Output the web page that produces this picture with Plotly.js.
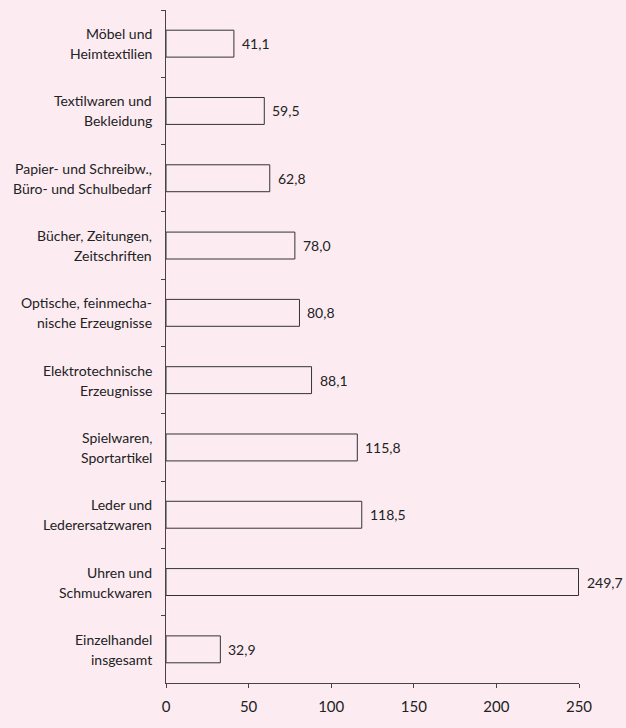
<!DOCTYPE html>
<html>
<head>
<meta charset="utf-8">
<script src="https://cdn.plot.ly/plotly-3.0.1.min.js"></script>
<style>html,body{margin:0;padding:0;background:#fcecf2;}</style>
</head>
<body>
<div id="chart" style="width:626px;height:728px;"></div>
<script>
const categories = [
  "Möbel und<br>Heimtextilien",
  "Textilwaren und<br>Bekleidung",
  "Papier- und Schreibw.,<br>Büro- und Schulbedarf",
  "Bücher, Zeitungen,<br>Zeitschriften",
  "Optische, feinmecha-<br>nische Erzeugnisse",
  "Elektrotechnische<br>Erzeugnisse",
  "Spielwaren,<br>Sportartikel",
  "Leder und<br>Lederersatzwaren",
  "Uhren und<br>Schmuckwaren",
  "Einzelhandel<br>insgesamt"
];
const values = [41.1, 59.5, 62.8, 78.0, 80.8, 88.1, 115.8, 118.5, 249.7, 32.9];
const xTicks = [0, 50, 100, 150, 200, 250];

const bg = "#fcecf2";
const fontFam = "Lato, sans-serif";
const trace = {
  type: "bar",
  orientation: "h",
  y: categories,
  x: values,
  width: 0.4,
  marker: {color: bg, line: {color: "#333", width: 1}},
  hoverinfo: "none"
};

const annotations = [];
categories.forEach((c, i) => {
  const lines = c.split("<br>");
  lines.forEach((ln, j) => {
    annotations.push({
      xref: "paper", x: 0, yref: "y", y: c,
      text: ln, showarrow: false,
      xanchor: "right", yanchor: "middle",
      xshift: -12, yshift: (lines.length - 1) * 10 - j * 20,
      font: {family: fontFam, size: 14, color: "#222"}
    });
  });
  annotations.push({
    xref: "x", x: values[i], yref: "y", y: c,
    text: values[i].toFixed(1).replace(".", ","),
    showarrow: false, xanchor: "left", yanchor: "middle",
    xshift: 6,
    font: {family: fontFam, size: 14, color: "#222"}
  });
});

const layout = {
  width: 626, height: 728,
  paper_bgcolor: bg, plot_bgcolor: bg,
  separators: ",.",
  margin: {l: 166, r: 47, t: 10, b: 45},
  showlegend: false,
  font: {family: fontFam, size: 14, color: "#222"},
  annotations: annotations,
  xaxis: {
    range: [0, 250],
    tickvals: xTicks,
    ticktext: xTicks.map(String),
    showgrid: false, zeroline: false,
    showline: true, linecolor: "#444", linewidth: 1,
    ticks: "outside", ticklen: 4, tickcolor: "#444",
    ticklabelstandoff: 6,
    tickfont: {size: 15}
  },
  yaxis: {
    type: "category",
    range: [9.5, -0.5],
    showgrid: false, zeroline: false,
    showline: true, linecolor: "#444", linewidth: 1,
    ticks: "outside", ticklen: 4, tickcolor: "#444",
    tickson: "boundaries",
    showticklabels: false
  }
};

Plotly.newPlot("chart", [trace], layout, {staticPlot: true});
</script>
</body>
</html>
